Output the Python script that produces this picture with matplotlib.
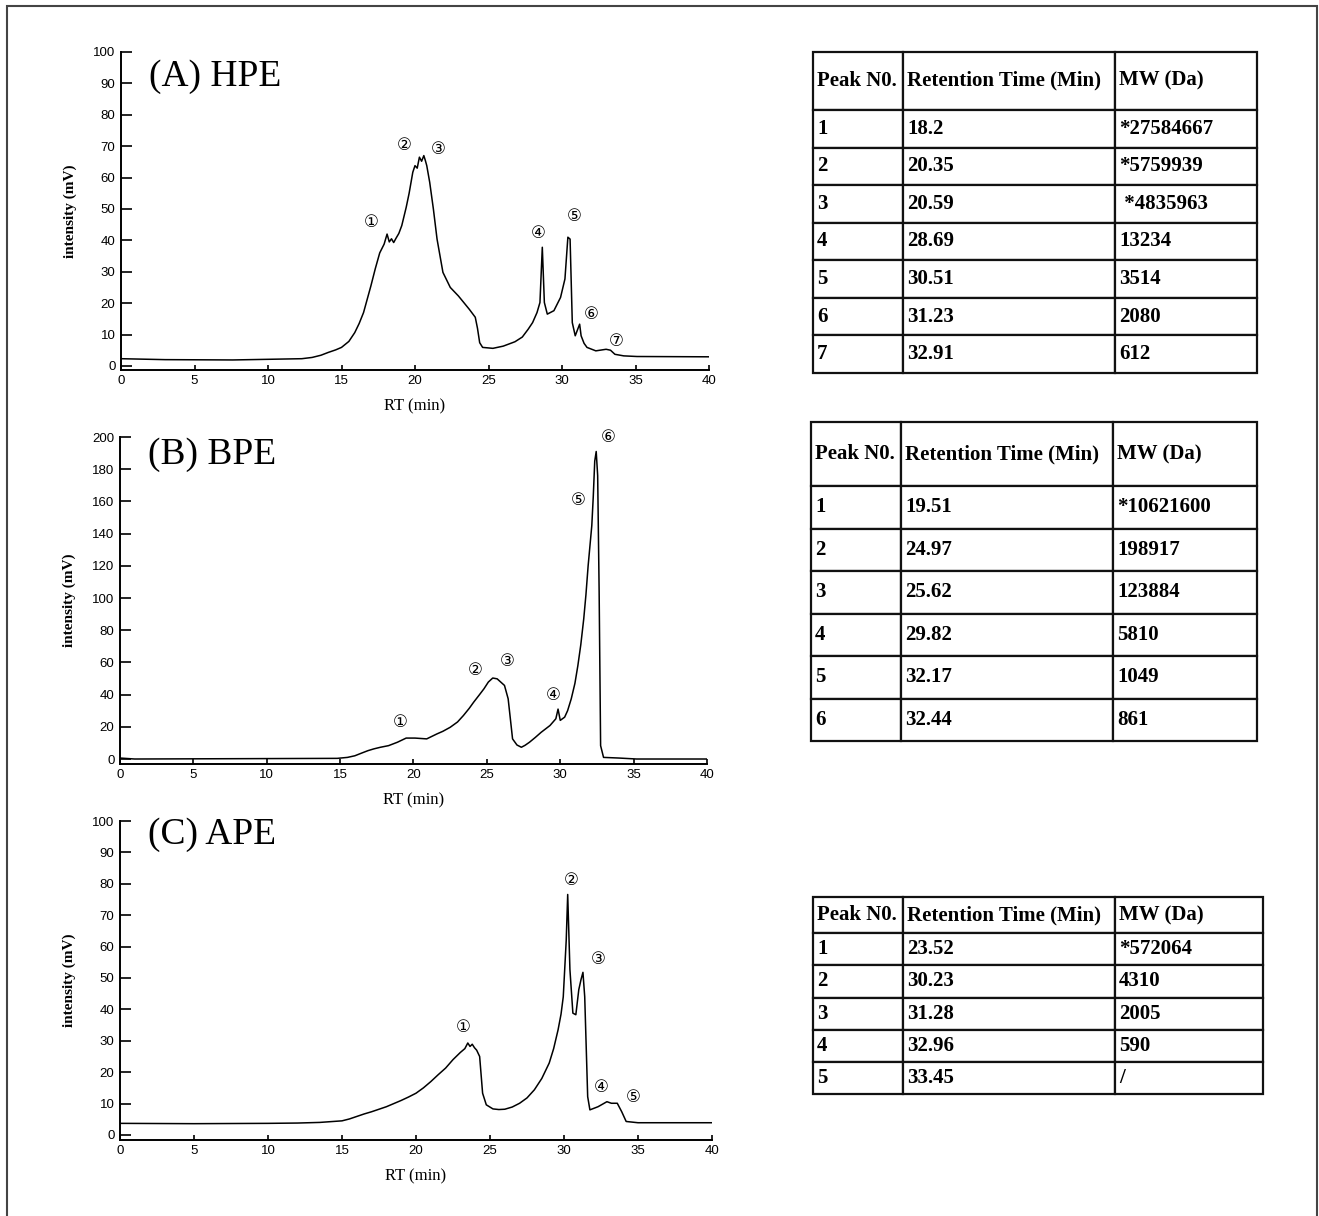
import matplotlib
matplotlib.use("Agg")
import matplotlib.pyplot as plt
from matplotlib.patches import Rectangle

W, H = 1319, 1216

# ---- chromatogram traces ----
hpe_rt = [0, 3, 7.6, 12.3, 13.0, 13.6, 14.1, 14.6, 15.0, 15.5, 15.9, 16.2, 16.5, 17.0, 17.3,
          17.6, 17.9, 18.1, 18.25, 18.4, 18.55, 18.7, 18.9, 19.1, 19.4, 19.6, 19.85, 20.0,
          20.15, 20.3, 20.45, 20.6, 20.7, 20.8, 21.0, 21.25, 21.5, 21.9, 22.4, 22.95, 23.3,
          23.7, 24.1, 24.25, 24.4, 24.6, 25.3, 26.0, 26.8, 27.3, 27.7, 28.0, 28.3, 28.5,
          28.66, 28.8, 29.0, 29.45, 29.9, 30.2, 30.4, 30.55, 30.7, 30.9, 31.2, 31.3, 31.5,
          31.7, 32.3, 33.0, 33.3, 33.6, 34.2, 35.1, 40]
hpe_mv = [2.3, 2.0, 1.9, 2.3, 2.7, 3.4, 4.3, 5.1, 5.9, 7.8, 10.6, 13.5, 17, 25.5, 31,
          36, 38.8, 42, 39.5, 40.5, 39.3, 40.6, 42.2, 44.7, 50.5, 55, 61.7, 63.8,
          63.0, 66.5, 65.2, 67, 65.5, 63.8, 58.5, 50, 40.4, 29.8, 25, 22.3, 20.3,
          18, 15.5, 12, 7.4, 5.9, 5.6, 6.3, 7.7, 9.2, 11.7, 13.8, 17, 20.2,
          37.8, 20.2, 16.5, 17.6, 21.8, 27.7, 41, 40.4, 13.8, 9.6, 13.3, 9.6, 7.2,
          5.9, 4.8, 5.3, 5.0, 3.7, 3.2, 3.0, 2.9]

bpe_rt = [0, 1, 14.8, 15.5, 16.0, 16.5, 16.9, 17.3, 17.75, 18.3, 18.9, 19.5, 20.1, 20.9,
          21.6, 22.0, 22.5, 23.0, 23.4, 23.8, 24.1, 24.5, 24.8, 25.1, 25.4, 25.7, 26.2,
          26.45, 26.6, 26.75, 27.05, 27.35, 27.6, 27.9, 28.3, 28.7, 29.3, 29.7, 29.85, 30.0,
          30.3, 30.5, 30.75, 31.0, 31.2, 31.4, 31.6, 31.75, 31.9, 32.05, 32.15, 32.25,
          32.35, 32.45, 32.55, 32.65, 32.75, 32.95, 34.0, 35.2, 40]
bpe_mv = [0.6, 0, 0.4, 1.0, 2, 3.8, 5.2, 6.3, 7.3, 8.3, 10.4, 13, 13, 12.5,
          15.6, 17.2, 19.7, 23, 27, 31.5, 35.3, 40, 43.6, 47.8, 50.3, 49.8, 45.7,
          37.4, 25, 12.5, 8.7, 7.3, 8.5, 10.4, 13.4, 16.6, 20.8, 25, 31, 24,
          26, 30, 37.4, 47, 58, 71, 87, 102, 120, 135, 145, 163,
          185, 191, 176, 104, 8.3, 1, 0.6, 0, 0]

ape_rt = [0, 5, 10, 12, 13.5, 15, 15.5, 16, 16.5, 17, 17.5, 18, 18.5, 19, 19.5, 20, 20.5,
          21, 21.5, 22, 22.5, 23, 23.3, 23.5, 23.65, 23.8, 23.95, 24.1, 24.3, 24.5, 24.75,
          25.2, 25.6, 26, 26.5, 27, 27.5, 28, 28.5, 29, 29.3, 29.6, 29.8, 29.95, 30.15,
          30.25, 30.4, 30.6, 30.8, 31.0, 31.15, 31.28, 31.4, 31.6, 31.75, 32.3, 32.9, 33.2,
          33.6, 33.9, 34.2, 35, 40]
ape_mv = [3.7, 3.6, 3.7, 3.8, 4.0, 4.5, 5.1, 5.9, 6.7, 7.4, 8.2, 9, 10, 11, 12.1, 13.3, 15,
          17, 19.2, 21.3, 24, 26.3, 27.5, 29.3, 28.2, 28.9, 27.8, 27, 25, 13.3, 9.6,
          8.3, 8.1, 8.2, 8.9, 10.1, 11.8, 14.4, 18, 22.9, 27.5, 33.5, 38.5, 44, 62,
          76.6, 52.7, 38.8, 38.3, 46.3, 49.5, 51.8, 44, 12.2, 8, 9, 10.6, 10.1,
          10.1, 7.4, 4.3, 3.9, 3.9]

# ---- circled peak labels (x, y in data units) ----
circled = ["\u2460", "\u2461", "\u2462", "\u2463", "\u2464", "\u2465", "\u2466"]
hpe_lab_x = [17.0, 19.25, 21.6, 28.4, 30.8, 32.0, 33.7]
hpe_lab_y = [45.9, 70.4, 69.1, 42.4, 47.8, 16.6, 8.0]
bpe_lab_x = [19.1, 24.2, 26.4, 29.5, 31.2, 33.3]
bpe_lab_y = [23, 55.3, 60.9, 39.8, 160.9, 200]
ape_lab_x = [23.2, 30.5, 32.3, 32.5, 34.7]
ape_lab_y = [34.4, 81.2, 56.1, 15.3, 12.1]

# ---- tables ----
header = ["Peak N0.", "Retention Time (Min)", "MW (Da)"]
hpe_tab = [["1", "18.2", "*27584667"], ["2", "20.35", "*5759939"], ["3", "20.59", " *4835963"],
           ["4", "28.69", "13234"], ["5", "30.51", "3514"], ["6", "31.23", "2080"],
           ["7", "32.91", "612"]]
bpe_tab = [["1", "19.51", "*10621600"], ["2", "24.97", "198917"], ["3", "25.62", "123884"],
           ["4", "29.82", "5810"], ["5", "32.17", "1049"], ["6", "32.44", "861"]]
ape_tab = [["1", "23.52", "*572064"], ["2", "30.23", "4310"], ["3", "31.28", "2005"],
           ["4", "32.96", "590"], ["5", "33.45", "/"]]

SERIF = "Liberation Serif"
SANS = "Liberation Sans"

fig = plt.figure(figsize=(W / 100, H / 100), dpi=100)


def px_rect(x0, y0, x1, y1):
    return [x0 / W, 1 - y1 / H, (x1 - x0) / W, (y1 - y0) / H]


def chrom(rect, rt, mv, ymax, ystep, ymin, title, ty, lx, ly):
    ax = fig.add_axes(px_rect(*rect))
    ax.plot(rt, mv, color="black", lw=1.1)
    ax.set_xlim(0, 40)
    ax.set_ylim(ymin, ymax)
    ax.set_xticks(range(0, 41, 5))
    ax.set_yticks(range(0, ymax + 1, ystep))
    for s in ["top", "right"]:
        ax.spines[s].set_visible(False)
    for s in ["left", "bottom"]:
        ax.spines[s].set_linewidth(1.4)
    ax.tick_params(axis="y", direction="in", length=8, width=1.2, pad=4, labelsize=9.5)
    ax.tick_params(axis="x", direction="in", length=3.5, width=1.2, pad=3.5, labelsize=9.5)
    for t in ax.get_xticklabels() + ax.get_yticklabels():
        t.set_fontfamily(SANS)
    ax.set_ylabel("intensity (mV)", fontfamily=SERIF, fontweight="bold", fontsize=11)
    ax.yaxis.set_label_coords(-0.075, 0.5)
    ax.set_xlabel("RT (min)", fontfamily=SERIF, fontsize=12)
    ax.xaxis.set_label_coords(0.5, -0.088)
    ax.text(1.9, ty, title, fontfamily=SERIF, fontsize=27, va="center", ha="left")
    for i, (x, y) in enumerate(zip(lx, ly)):
        ax.text(x, y, circled[i], fontsize=12, ha="center", va="center",
                fontfamily="DejaVu Sans")
    return ax


chrom((121, 52, 709, 370), hpe_rt, hpe_mv, 100, 10, -1.3, "(A) HPE", 92,
      hpe_lab_x, hpe_lab_y)
chrom((120, 437, 707, 764), bpe_rt, bpe_mv, 200, 20, -3.1, "(B) BPE", 188.8,
      bpe_lab_x, bpe_lab_y)
chrom((120, 821, 712, 1140), ape_rt, ape_mv, 100, 10, -1.6, "(C) APE", 95.5,
      ape_lab_x, ape_lab_y)


def table(rect, cols, head_h, row_h, rows):
    ax = fig.add_axes(px_rect(*rect))
    ax.axis("off")
    tb = ax.table(cellText=rows, colLabels=header, colWidths=cols,
                  cellLoc="left", colLoc="left", bbox=[0, 0, 1, 1])
    tb.auto_set_font_size(False)
    for (r, c), cell in tb.get_celld().items():
        cell.set_height(head_h if r == 0 else row_h)
        cell.set_linewidth(1.6)
        cell.set_edgecolor("#111111")
        cell.PAD = 4.0 / cols[c]
        txt = cell.get_text()
        txt.set_fontfamily(SERIF)
        txt.set_fontweight("bold")
        txt.set_fontsize(15)
    return tb


table((813, 52, 1257, 373), [90, 212, 142], 58, 37.6, hpe_tab)
table((811, 422, 1257, 741), [90, 212, 144], 64, 42.5, bpe_tab)
table((813, 897, 1263, 1094), [90, 212, 148], 36, 32, ape_tab)

# thin frame round the whole figure
fig.add_artist(Rectangle((7 / W, -0.01), (1317 - 7) / W, 1 - 6 / H + 0.01,
                         transform=fig.transFigure, fill=False, ec="#444444", lw=1.5))

fig.savefig("out.png", dpi=100)
